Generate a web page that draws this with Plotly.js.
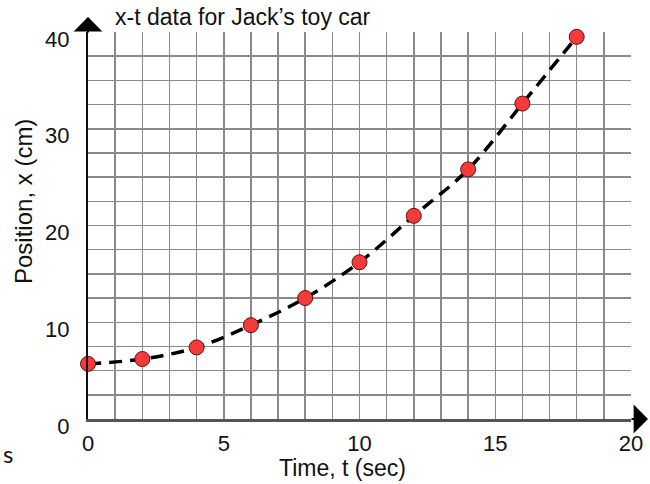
<!DOCTYPE html>
<html>
<head>
<meta charset="utf-8">
<script src="https://cdn.plot.ly/plotly-3.0.1.min.js"></script>
<style>html,body{margin:0;padding:0;background:#fff;}#chart{width:650px;height:484px;}</style>
</head>
<body>
<div id="chart"></div>
<script>
// Data
const timeSec = [0, 2, 4, 6, 8, 10, 12, 14, 16, 18];
const positionCm = [5.7, 6.2, 7.4, 9.7, 12.5, 16.2, 21.0, 25.8, 32.6, 39.5];
const xTickVals = [0, 5, 10, 15, 20];
const xTickText = ['0', '5', '10', '15', '20'];
const yTickVals = [0, 10, 20, 30, 40];
const yTickText = ['0', '10', '20', '30', '40'];

const FONT = 'Liberation Sans, Arial, sans-serif';
const GRID = '#8a8a8a';

const traces = [
  {
    x: timeSec, y: positionCm, type: 'scatter', mode: 'lines',
    line: {color: '#000', width: 3.5, dash: '13px,8px', shape: 'spline', smoothing: 1},
    hoverinfo: 'skip', showlegend: false, cliponaxis: false
  },
  {
    x: timeSec, y: positionCm, type: 'scatter', mode: 'markers',
    marker: {color: '#f63a3a', size: 15, line: {color: '#5a1515', width: 1}},
    showlegend: false, cliponaxis: false
  }
];

const layout = {
  width: 650, height: 484,
  margin: {l: 88, r: 19, t: 32, b: 65},
  paper_bgcolor: '#fff', plot_bgcolor: '#fff',
  font: {family: FONT, color: '#111', size: 22},
  showlegend: false,
  title: {
    text: 'x-t data for Jack\u2019s toy car',
    font: {family: FONT, size: 23, color: '#111'},
    xref: 'container', yref: 'container',
    x: 115/650, xanchor: 'left', y: 1 - 17/484, yanchor: 'middle'
  },
  xaxis: {
    range: [0, 20], tickmode: 'array', tickvals: xTickVals, ticktext: xTickText,
    showgrid: true, gridcolor: GRID, gridwidth: 1.5,
    minor: {dtick: 1, tick0: 0, showgrid: true, gridcolor: GRID, gridwidth: 1.5},
    showline: true, linecolor: '#555', linewidth: 3,
    zeroline: false, ticks: '', tickfont: {family: FONT, size: 22, color: '#111'},
    ticklabelstandoff: 3,
    fixedrange: true
  },
  yaxis: {
    range: [0, 40], tickmode: 'array', tickvals: yTickVals, ticktext: yTickText,
    showgrid: true, gridcolor: GRID, gridwidth: 1.5,
    minor: {dtick: 2.5, tick0: 0, showgrid: true, gridcolor: GRID, gridwidth: 1.5},
    showline: true, linecolor: '#111', linewidth: 2,
    zeroline: false, ticks: '', tickfont: {family: FONT, size: 22, color: '#111'},
    ticklabelshift: 7, ticklabelstandoff: 12,
    fixedrange: true
  },
  annotations: [
    // axis titles
    {xref: 'paper', yref: 'paper', x: (342 - 88)/543, y: -(468 - 419)/387, xanchor: 'center', yanchor: 'middle',
     text: 'Time, t (sec)', showarrow: false, font: {family: FONT, size: 23, color: '#111'}},
    {xref: 'paper', yref: 'paper', x: -(88 - 23)/543, y: (419 - 202)/387, xanchor: 'center', yanchor: 'middle',
     text: 'Position, x (cm)', textangle: -90, showarrow: false, font: {family: FONT, size: 24, color: '#111'}},
    // axis arrows
    {xref: 'paper', yref: 'paper', x: 0, y: 1 + 15/387, ax: 0, ay: 17, axref: 'pixel', ayref: 'pixel',
     text: '', showarrow: true, arrowhead: 1, arrowsize: 2.4, arrowwidth: 2, arrowcolor: '#000'},
    {xref: 'paper', yref: 'paper', x: 1 + 17/543, y: 0, ax: -18, ay: 0, axref: 'pixel', ayref: 'pixel',
     text: '', showarrow: true, arrowhead: 1, arrowsize: 2.4, arrowwidth: 2, arrowcolor: '#000'},
    // stray glyph at lower left of the reference
    {xref: 'paper', yref: 'paper', x: -80/543, y: -34/387, xanchor: 'center', yanchor: 'middle',
     text: 's', showarrow: false, font: {family: 'Lato, sans-serif', size: 24, color: '#111'}}
  ]
};

Plotly.newPlot('chart', traces, layout, {displayModeBar: false, staticPlot: true});
</script>
</body>
</html>
